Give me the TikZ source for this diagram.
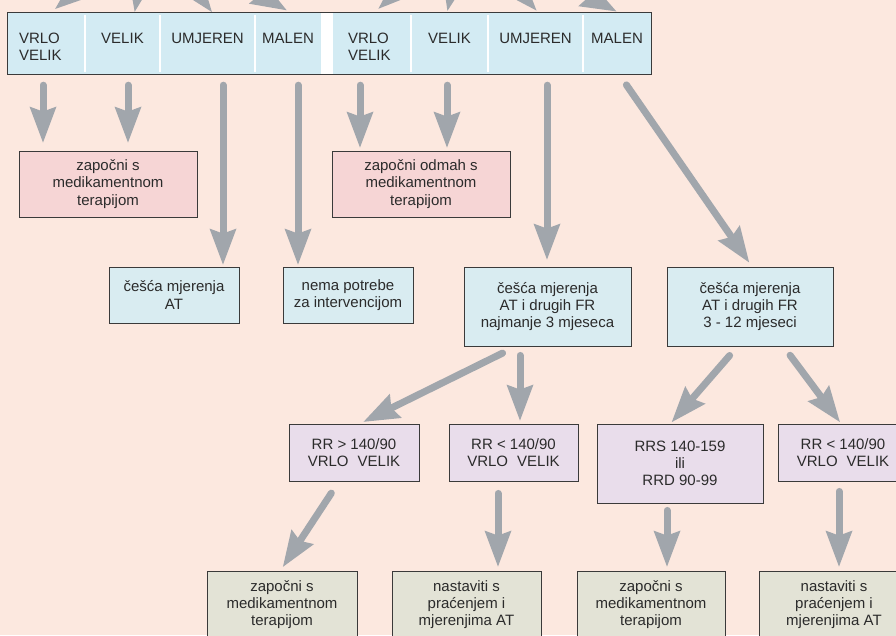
\documentclass[tikz,border=0pt]{standalone}
\usepackage{fontspec}
\setmainfont{Liberation Sans}
\usetikzlibrary{arrows.meta}
\definecolor{peach}{HTML}{FCE8DF}
\definecolor{barblue}{HTML}{D3EBF3}
\definecolor{boxblue}{HTML}{D9ECF1}
\definecolor{boxpink}{HTML}{F6D5D5}
\definecolor{boxlilac}{HTML}{E9DDEB}
\definecolor{boxolive}{HTML}{E3E3D6}
\definecolor{arrowgrey}{HTML}{A1A6AC}
\definecolor{edgegrey}{HTML}{3A3A3A}
\definecolor{ink}{HTML}{2B2B2B}
\tikzset{>={Stealth[length=36pt,width=27pt,inset=5pt,line width=0pt]}}
\tikzset{
  txt/.style={font=\fontsize{15}{17.3}\selectfont, text=ink},
  cell/.style={txt, fill=barblue, inner sep=0pt, minimum height=61pt, minimum width=#1, text width=#1,
    text height=30pt, text depth=31pt, align=center},
  box/.style={txt, draw=edgegrey, line width=0.9pt, inner sep=0pt, align=center},
  pinkbox/.style={box, fill=boxpink, minimum width=178pt, minimum height=66pt},
  bluebox/.style={box, fill=boxblue},
  lilacbox/.style={box, fill=boxlilac, minimum height=57pt},
  olivebox/.style={box, fill=boxolive, minimum width=150pt, minimum height=67pt},
  arr/.style={->, draw=arrowgrey, line width=7pt, line cap=round},
  sep/.style={draw=white, line width=2pt, shorten <=2pt, shorten >=2pt},
}

\begin{document}
\begin{tikzpicture}[x=1pt, y=-1pt]
    \useasboundingbox (0,0) rectangle (896,635);
    \fill[peach] (0,0) rectangle (896,635);
    % top bar
    \node[cell=77pt, text width=55pt, align=left] (vv1) at (46.5,43.5) {VRLO\\VELIK};
    \node[cell=75pt] (v1) at (122.5,43.5) {VELIK};
    \node[cell=95pt] (u1) at (207.5,43.5) {UMJEREN};
    \node[cell=66pt] (m1) at (288,43.5) {MALEN};
    \node[cell=78pt, text width=48pt, align=left] (vv2) at (372,43.5) {VRLO\\VELIK};
    \node[cell=77pt] (v2) at (449.5,43.5) {VELIK};
    \node[cell=95pt] (u2) at (535.5,43.5) {UMJEREN};
    \node[cell=68pt] (m2) at (617,43.5) {MALEN};
    \foreach \cl in {vv1,v1,u1,vv2,v2,u2}
        \draw[sep] (\cl.north east) -- (\cl.south east);
    \fill[white] (m1.north east) rectangle (vv2.south west);
    \draw[edgegrey, line width=1pt] (vv1.north west) rectangle (m2.south east);
    % arrows coming in from above
    \coordinate (srcL) at (150,-70);
    \coordinate (srcR) at (465,-70);
    \draw[arr, shorten >=6pt] (srcL) -- ([xshift=4pt]vv1.north);
    \draw[arr, shorten >=1pt] (srcL) -- ([xshift=12pt]v1.north);
    \draw[arr, shorten >=1pt] (srcL) -- ([xshift=5pt]u1.north);
    \draw[arr, shorten >=5pt] (srcL) -- ([xshift=3pt]m1.north);
    \draw[arr, shorten >=6pt] (srcR) -- ([xshift=2pt]vv2.north);
    \draw[arr, shorten >=2pt] (srcR) -- ([xshift=-2.5pt]v2.north);
    \draw[arr, shorten >=3pt] (srcR) -- ([xshift=3pt]u2.north);
    \draw[arr, shorten >=3pt] (srcR) -- ([xshift=2pt]m2.north);
    % first row
    \node[pinkbox] (pz1) at (108,184) {započni s\\medikamentnom\\terapijom};
    \node[pinkbox] (pz2) at (421,184) {započni odmah s\\medikamentnom\\terapijom};
    \node[bluebox, minimum width=130pt, minimum height=56pt] (cm1) at (174,295) {češća mjerenja\\AT};
    \node[bluebox, minimum width=130pt, minimum height=56pt] (np) at (348,295) {nema potrebe\\za intervencijom};
    \node[bluebox, minimum width=167pt, minimum height=79pt] (cm2) at (547.5,306.5) {češća mjerenja\\AT i drugih FR\\najmanje 3 mjeseca};
    \node[bluebox, minimum width=166pt, minimum height=79pt] (cm3) at (750,306.5) {češća mjerenja\\AT i drugih FR\\3 - 12 mjeseci};
    \draw[arr, shorten <=11pt, shorten >=8pt] ([xshift=-3.5pt]vv1.south) -- ([xshift=-3.5pt]vv1.south |- pz1.north);
    \draw[arr, shorten <=11pt, shorten >=8pt] ([xshift=5.5pt]v1.south) -- ([xshift=5.5pt]v1.south |- pz1.north);
    \draw[arr, shorten <=11pt, shorten >=2pt] ([xshift=15.5pt]u1.south) -- ([xshift=15.5pt]u1.south |- cm1.north);
    \draw[arr, shorten <=11pt, shorten >=2pt] ([xshift=10pt]m1.south) -- ([xshift=10pt]m1.south |- np.north);
    \draw[arr, shorten <=11pt, shorten >=3pt] ([xshift=-12pt]vv2.south) -- ([xshift=-12pt]vv2.south |- pz2.north);
    \draw[arr, shorten <=11pt, shorten >=3pt] ([xshift=-2.5pt]v2.south) -- ([xshift=-2.5pt]v2.south |- pz2.north);
    \draw[arr, shorten <=11pt, shorten >=7pt] ([xshift=11.5pt]u2.south) -- ([xshift=11.5pt]u2.south |- cm2.north);
    \draw[arr, shorten <=13pt, shorten >=5pt] ([xshift=2pt]m2.south) -- ([xshift=2pt]cm3.north);
    % second row
    \node[lilacbox, minimum width=130pt] (rr1) at (354,452.5) {RR > 140/90\\VRLO\hspace{0.6em}VELIK};
    \node[lilacbox, minimum width=129pt] (rr2) at (513.5,452.5) {RR < 140/90\\VRLO\hspace{0.6em}VELIK};
    \node[lilacbox, minimum width=166pt, minimum height=79pt] (rrs) at (680,463.5) {RRS 140-159\\ili\\RRD 90-99};
    \node[lilacbox, minimum width=130pt] (rr3) at (843,452.5) {RR < 140/90\\VRLO\hspace{0.6em}VELIK};
    \draw[arr, shorten <=15pt, shorten >=4pt] ([xshift=-31.5pt]cm2.south) -- ([xshift=6pt]rr1.north);
    \draw[arr, shorten <=9pt, shorten >=3pt] ([xshift=-27.5pt]cm2.south) -- ([xshift=-27.5pt]cm2.south |- rr2.north);
    \draw[arr, shorten <=12pt, shorten >=2pt] ([xshift=-12.5pt]cm3.south) -- ([xshift=-9.5pt]rrs.north);
    \draw[arr, shorten <=11pt, shorten >=2pt] ([xshift=33.5pt]cm3.south) -- ([xshift=-2pt]rr3.north);
    % third row
    \node[olivebox] (g1) at (282,604.5) {započni s\\medikamentnom\\terapijom};
    \node[olivebox, minimum width=149pt] (g2) at (466.5,604.5) {nastaviti s\\praćenjem i\\mjerenjima AT};
    \node[olivebox, minimum width=148pt] (g3) at (651,604.5) {započni s\\medikamentnom\\terapijom};
    \node[olivebox] (g4) at (834,604.5) {nastaviti s\\praćenjem i\\mjerenjima AT};
    \draw[arr, shorten <=14pt, shorten >=4.5pt] ([xshift=-15pt]rr1.south) -- ([xshift=-1.5pt]g1.north);
    \draw[arr, shorten <=12pt, shorten >=4pt] ([xshift=-15.5pt]rr2.south) -- ([xshift=-15.5pt]rr2.south |- g2.north);
    \draw[arr, shorten <=7pt, shorten >=4pt] ([xshift=-13pt]rrs.south) -- ([xshift=-13pt]rrs.south |- g3.north);
    \draw[arr, shorten <=10pt, shorten >=4pt] ([xshift=-4pt]rr3.south) -- ([xshift=-4pt]rr3.south |- g4.north);
\end{tikzpicture}
\end{document}
